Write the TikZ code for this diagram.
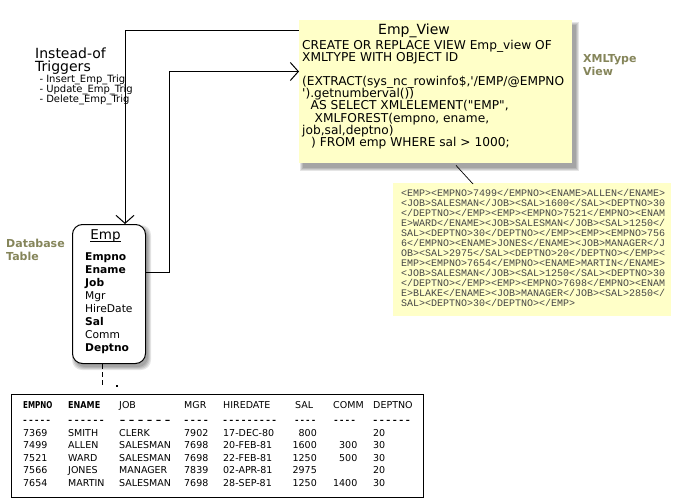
\documentclass[tikz,border=0pt]{standalone}
\usepackage{graphicx}
\usepackage{fontspec}
\setmainfont{DejaVu Sans}
\newfontfamily\xmlmono{Liberation Mono}
\usetikzlibrary{arrows.meta,calc}
\definecolor{notefill}{HTML}{FFFFC8}
\definecolor{labolive}{HTML}{85855A}
\definecolor{xmlgray}{HTML}{464646}
\begin{document}
\begin{tikzpicture}[x=1pt,y=-1pt,
  txt/.style={inner sep=0pt,anchor=base west},
  vtxt/.style={txt,font={\fontsize{12.2}{12}\selectfont}},
  ftxt/.style={txt,font={\fontsize{10.7}{13}\selectfont}},
  fbold/.style={txt,font={\fontsize{10.7}{13}\selectfont\bfseries}},
  lab/.style={txt,text=labolive,font={\fontsize{11}{13}\selectfont\bfseries}},
  xtxt/.style={txt,text=xmlgray,font={\xmlmono\fontsize{10}{10}\selectfont}},
  ttxt/.style={txt,font={\fontsize{9.5}{12}\selectfont}},
  tnum/.style={ttxt,anchor=base east},
  dashtxt/.style={txt,font={\xmlmono\bfseries\fontsize{10}{10}\selectfont}},
  bul/.style={txt,font={\fontsize{10}{10}\selectfont}},
  big/.style={txt,font={\fontsize{14}{14}\selectfont}},
  conn/.style={line width=1pt},
  barb/.style={conn,-{Straight Barb[length=8pt,width=18pt,line width=1pt]}},
  panel/.style={inner sep=0pt,anchor=north west},
]
\useasboundingbox (0,0) rectangle (700,500);
\fill[white] (0,0) rectangle (700,500);

% shadows
\foreach \k in {0,1,2,3}
  \fill[black,opacity=0.1] (303-\k,25-\k) rectangle (576+\k,168+\k);
\foreach \k in {0,1,2,3}
  \fill[black,opacity=0.1,rounded corners=10pt] (75-\k,228-\k) rectangle (148+\k,367+\k);

% panels
\node[panel,fill=notefill,minimum width=273pt,minimum height=143pt] (view) at (299,20) {};
\node[panel,draw,line width=1pt,fill=white,rounded corners=10pt,minimum width=73pt,minimum height=139pt] (emp) at (72,224) {};
\node[panel,draw,line width=1pt,minimum width=412pt,minimum height=103pt] (tbl) at (11,394) {};
\node[panel,fill=notefill,minimum width=278pt,minimum height=133pt] (xml) at (393,183) {};

% connectors
\draw[barb] ($(view.north west)+(0,10.7)$) -| ($(emp.north west)+(53,0)$);
\draw[barb] ($(emp.north east)+(0,48)$) -- ++(23,0) |- ($(view.north west)+(0,51.5)$);
\coordinate (dend) at (102.5,386);
\draw[line width=1pt,dash pattern=on 5pt off 3pt] ($(emp.south west)+(30.5,0)$) -- (dend);
\fill (115.5,385) rectangle (117.5,387);
\draw[line width=0.7pt] ($(view.south west)+(157,2)$) -- ($(xml.north west)+(80,1)$);

% trigger text
\node[big] (trig1) at (35,58.3) {Instead-of};
\node[big] (trig2) at (35,71.7) {Triggers};
\node[bul] (tb1) at (39.3,82.5) {- Insert\_Emp\_Trig};
\node[bul] (tb2) at (39.3,92.5) {- Update\_Emp\_Trig};
\node[bul] (tb3) at (39.3,102.5) {- Delete\_Emp\_Trig};

% labels
\node[lab] (lb1) at (6,247.5) {Database};
\node[lab] (lb2) at (6,260.5) {Table};
\node[lab] (lx1) at (583,62.7) {XMLType};
\node[lab] (lx2) at (583,76) {View};

% view text
\node[txt,anchor=base,font={\fontsize{14}{14}\selectfont}] (vt) at (414,35) {Emp\_View};
\node[vtxt] (v1) at (302,50) {CREATE OR REPLACE VIEW Emp\_view OF};
\node[vtxt] (v2) at (302,62) {XMLTYPE WITH OBJECT ID};
\node[vtxt] (v3) at (302,86) {(EXTRACT(sys\_nc\_rowinfo\$,\textquotesingle/EMP/@EMPNO};
\node[vtxt] (v4) at (302,98) {\textquotesingle).getnumberval())};
\node[vtxt] (v5) at (310.5,110) {AS SELECT XMLELEMENT(\textquotedbl EMP\textquotedbl,};
\node[vtxt] (v6) at (314.5,122) {XMLFOREST(empno, ename,};
\node[vtxt] (v7) at (302,134) {job,sal,deptno)};
\node[vtxt] (v8) at (311,146) {) FROM emp WHERE sal > 1000;};

% xml text
\foreach \t [count=\k] in {
 <EMP><EMPNO>7499</EMPNO><ENAME>ALLEN</ENAME>,
 <JOB>SALESMAN</JOB><SAL>1600</SAL><DEPTNO>30,
 </DEPTNO></EMP><EMP><EMPNO>7521</EMPNO><ENAM,
 E>WARD</ENAME><JOB>SALESMAN</JOB><SAL>1250</,
 SAL><DEPTNO>30</DEPTNO></EMP><EMP><EMPNO>756,
 6</EMPNO><ENAME>JONES</ENAME><JOB>MANAGER</J,
 OB><SAL>2975</SAL><DEPTNO>20</DEPTNO></EMP><,
 EMP><EMPNO>7654</EMPNO><ENAME>MARTIN</ENAME>,
 <JOB>SALESMAN</JOB><SAL>1250</SAL><DEPTNO>30,
 </DEPTNO></EMP><EMP><EMPNO>7698</EMPNO><ENAM,
 E>BLAKE</ENAME><JOB>MANAGER</JOB><SAL>2850</,
 SAL><DEPTNO>30</DEPTNO></EMP>}
  \node[xtxt] (x\k) at (401,186.5+10*\k) {\t};

% emp box text
\node[txt,anchor=base,font={\fontsize{13.5}{14}\selectfont}] (empt) at (105.5,239.3) {Emp};
\draw[line width=0.8pt] ($(empt.base west)+(0,2.5)$) -- ($(empt.base east)+(0,2.5)$);
\node[fbold] (f1) at (85,260) {Empno};
\node[fbold] (f2) at (85,273) {Ename};
\node[fbold] (f3) at (85,286) {Job};
\node[ftxt] (f4) at (85,299) {Mgr};
\node[ftxt] (f5) at (85,312) {HireDate};
\node[fbold] (f6) at (85,325) {Sal};
\node[ftxt] (f7) at (85,338) {Comm};
\node[fbold] (f8) at (85,351) {Deptno};

% table header
\node[ttxt] (h1) at (23,408.5) {\bfseries\scalebox{0.75}[1]{EMPNO}};
\node[ttxt] (h2) at (68,408.5) {\bfseries\scalebox{0.85}[1]{ENAME}};
\node[ttxt] (h3) at (119,408.5) {JOB};
\node[ttxt] (h4) at (184,408.5) {MGR};
\node[ttxt] (h5) at (223,408.5) {HIREDATE};
\node[ttxt] (h6) at (295,408.5) {SAL};
\node[ttxt] (h7) at (333,408.5) {COMM};
\node[ttxt] (h8) at (373,408.5) {DEPTNO};
% dashes
\node[dashtxt] (d1) at (22,423) {\scalebox{0.97}[1]{-{}-{}-{}-{}-}};
\node[dashtxt] (d2) at (67,423) {\scalebox{1.05}[1]{-{}-{}-{}-{}-{}-}};
\node[dashtxt] (d3) at (118,423) {\scalebox{1.5}[1]{-{}-{}-{}-{}-{}-}};
\node[dashtxt] (d4) at (183,423) {\scalebox{1.08}[1]{-{}-{}-{}-}};
\node[dashtxt] (d5) at (222,423) {\scalebox{1.02}[1]{-{}-{}-{}-{}-{}-{}-{}-{}-}};
\node[dashtxt] (d6) at (294,423) {\scalebox{0.92}[1]{-{}-{}-{}-}};
\node[dashtxt] (d7) at (333,423) {\scalebox{0.96}[1]{-{}-{}-{}-}};
\node[dashtxt] (d8) at (372,423) {\scalebox{1.08}[1]{-{}-{}-{}-{}-{}-}};

% table rows
\foreach \y/\a/\b/\c/\d/\e/\f/\g/\h [count=\k] in {
 436/7369/SMITH/CLERK/7902/17-DEC-80/800//20,
 448.5/7499/ALLEN/SALESMAN/7698/20-FEB-81/1600/300/30,
 461/7521/WARD/SALESMAN/7698/22-FEB-81/1250/500/30,
 473.5/7566/JONES/MANAGER/7839/02-APR-81/2975//20,
 486/7654/MARTIN/SALESMAN/7698/28-SEP-81/1250/1400/30}
{
  \node[ttxt] (r\k-1) at (23,\y) {\a};
  \node[ttxt] (r\k-2) at (68,\y) {\b};
  \node[ttxt] (r\k-3) at (119,\y) {\c};
  \node[ttxt] (r\k-4) at (184,\y) {\d};
  \node[ttxt] (r\k-5) at (223,\y) {\e};
  \node[tnum] (r\k-6) at (317,\y) {\f};
  \node[tnum] (r\k-7) at (357.5,\y) {\g};
  \node[ttxt] (r\k-8) at (373,\y) {\h};
}
\end{tikzpicture}
\end{document}
